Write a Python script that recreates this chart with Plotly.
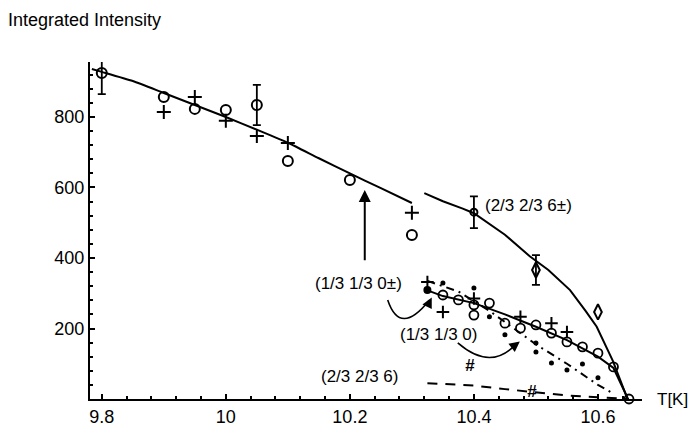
import plotly.graph_objects as go

# ---------------- data ----------------
# upper fit curve (below ~10.3 K)
fit1_T = [9.784, 9.8, 9.85, 9.9, 9.95, 10.0, 10.05, 10.1, 10.15, 10.2, 10.25, 10.3]
fit1_I = [936, 928, 902, 868, 834, 800, 764, 727, 683, 640, 598, 556]

# upper circles / crosses
up_circ_T = [9.8, 9.9, 9.95, 10.0, 10.05, 10.1, 10.2, 10.3]
up_circ_I = [925, 857, 823, 820, 834, 675, 621, 465]
up_circ_err = [60, 0, 0, 0, 57, 0, 0, 0]
up_plus_T = [9.9, 9.95, 10.0, 10.05, 10.1, 10.3]
up_plus_I = [814, 857, 789, 746, 726, 528]

# (2/3 2/3 6±) curve and points
fit2_T = [10.32, 10.35, 10.382, 10.4, 10.45, 10.49, 10.52, 10.555, 10.58, 10.598, 10.624, 10.647]
fit2_I = [584, 561, 540, 527, 466, 405, 366, 309, 250, 205, 108, 3]
p236_T = [10.4, 10.5, 10.6]
p236_I = [530, 366, 247]
p236_err = [45, 42, 0]

# (1/3 1/3 0±) curve and points
fit3_T = [10.324, 10.35, 10.4, 10.45, 10.5, 10.55, 10.6, 10.625, 10.648]
fit3_I = [309, 292, 272, 240, 205, 167, 120, 88, 2]
lo_circ_T = [10.35, 10.375, 10.4, 10.425, 10.45, 10.475, 10.5, 10.525, 10.55, 10.575, 10.6, 10.625, 10.65, 10.4]
lo_circ_I = [295, 281, 267, 272, 215, 201, 210, 187, 162, 148, 130, 91, 0, 238]
lo_plus_T = [10.325, 10.35, 10.4, 10.475, 10.525, 10.55]
lo_plus_I = [332, 247, 285, 233, 215, 190]
lo_fill_T = [10.325]
lo_fill_I = [309]

# (1/3 1/3 0) dots and dash-dot curve
dot_T = [10.35, 10.4, 10.425, 10.45, 10.5, 10.5, 10.525, 10.55, 10.575, 10.6]
dot_I = [329, 315, 233, 182, 159, 133, 102, 82, 99, 60]
fit4_T = [10.325, 10.375, 10.425, 10.475, 10.5, 10.55, 10.6, 10.625]
fit4_I = [335, 305, 250, 185, 155, 100, 40, 15]

# (2/3 2/3 6) dashed curve
fit5_T = [10.325, 10.4, 10.45, 10.49, 10.55, 10.6, 10.65]
fit5_I = [45, 38, 28, 20, 10, 5, 0]

x_ticks = [9.8, 10.0, 10.2, 10.4, 10.6]
x_tick_text = ["9.8", "10", "10.2", "10.4", "10.6"]
y_ticks = [200, 400, 600, 800]
y_tick_text = ["200", "400", "600", "800"]

FONT = "Liberation Sans, Arial, sans-serif"
BLACK = "#000000"


def with_errors(ts, vs, errs):
    idx = [i for i, e in enumerate(errs) if e > 0]
    return [ts[i] for i in idx], [vs[i] for i in idx], [errs[i] for i in idx]


fig = go.Figure()

line_kw = dict(mode="lines", hoverinfo="skip", showlegend=False, cliponaxis=False)
fig.add_trace(go.Scatter(x=fit1_T, y=fit1_I, line=dict(color=BLACK, width=2, shape="spline", smoothing=0.6), **line_kw))
fig.add_trace(go.Scatter(x=fit2_T, y=fit2_I, line=dict(color=BLACK, width=2), **line_kw))
fig.add_trace(go.Scatter(x=fit3_T, y=fit3_I, line=dict(color=BLACK, width=2), **line_kw))
fig.add_trace(go.Scatter(x=fit4_T, y=fit4_I, line=dict(color=BLACK, width=2, dash="8px,5px,2px,5px"), **line_kw))
fig.add_trace(go.Scatter(x=fit5_T, y=fit5_I, line=dict(color=BLACK, width=2, dash="10px,8px"), **line_kw))

# error bars (only where an error is given)
for ts, vs, es in [(up_circ_T, up_circ_I, up_circ_err), (p236_T, p236_I, p236_err)]:
    et, ev, ee = with_errors(ts, vs, es)
    fig.add_trace(go.Scatter(
        x=et, y=ev, mode="markers", marker=dict(size=1, color="rgba(0,0,0,0)"),
        error_y=dict(type="data", array=ee, visible=True, color=BLACK, thickness=1.8, width=4),
        hoverinfo="skip", showlegend=False, cliponaxis=False))

mk_kw = dict(mode="markers", hoverinfo="skip", showlegend=False, cliponaxis=False)
fig.add_trace(go.Scatter(x=up_circ_T, y=up_circ_I,
    marker=dict(symbol="circle-open", size=10, color=BLACK, line=dict(width=2, color=BLACK)), **mk_kw))
fig.add_trace(go.Scatter(x=up_plus_T, y=up_plus_I,
    marker=dict(symbol="cross-thin-open", size=10, color=BLACK, line=dict(width=2, color=BLACK)), **mk_kw))
fig.add_trace(go.Scatter(x=p236_T[:1], y=p236_I[:1],
    marker=dict(symbol="circle-open", size=7, color=BLACK, line=dict(width=2, color=BLACK)), **mk_kw))
fig.add_trace(go.Scatter(x=p236_T[1:], y=p236_I[1:],
    marker=dict(symbol="diamond-tall-open", size=11, color=BLACK, line=dict(width=2, color=BLACK)), **mk_kw))
fig.add_trace(go.Scatter(x=lo_circ_T, y=lo_circ_I,
    marker=dict(symbol="circle-open", size=9, color=BLACK, line=dict(width=1.8, color=BLACK)), **mk_kw))
fig.add_trace(go.Scatter(x=lo_plus_T, y=lo_plus_I,
    marker=dict(symbol="cross-thin-open", size=9, color=BLACK, line=dict(width=2, color=BLACK)), **mk_kw))
fig.add_trace(go.Scatter(x=lo_fill_T, y=lo_fill_I,
    marker=dict(symbol="circle", size=8, color=BLACK), **mk_kw))
fig.add_trace(go.Scatter(x=dot_T, y=dot_I,
    marker=dict(symbol="circle", size=5, color=BLACK), **mk_kw))

annos = [
    dict(text="(2/3 2/3 6±)", x=10.415, y=550, xanchor="left"),
    dict(text="(1/3 1/3 0±)", x=10.140, y=329, xanchor="left"),
    dict(text="(1/3 1/3 0)", x=10.277, y=184, xanchor="left"),
    dict(text="(2/3 2/3 6)", x=10.150, y=65, xanchor="left"),
]
for a in annos:
    fig.add_annotation(xref="x", yref="y", showarrow=False, yanchor="middle",
                       font=dict(family=FONT, size=17, color=BLACK), **a)
for hx, hy in [(10.394, 96), (10.494, 22)]:
    fig.add_annotation(xref="x", yref="y", showarrow=False, x=hx, y=hy, text="<b><i>#</i></b>",
                       font=dict(family=FONT, size=17, color=BLACK))

fig.add_annotation(text="T[K]", xref="paper", yref="y", x=1.024, y=0, xanchor="left", yanchor="middle",
                   showarrow=False, font=dict(family=FONT, size=17, color=BLACK))
fig.add_annotation(text="Integrated Intensity", xref="paper", yref="paper", x=-0.152, y=1.125,
                   xanchor="left", yanchor="middle", showarrow=False,
                   font=dict(family=FONT, size=18, color=BLACK))

# vertical arrow
fig.add_annotation(x=10.224, y=593, ax=10.224, ay=389, xref="x", yref="y", axref="x", ayref="y",
                   text="", showarrow=True, arrowhead=2, arrowsize=1.2, arrowwidth=2, arrowcolor=BLACK)
# curved arrows
fig.add_shape(type="path", xref="x", yref="y", path="M 10.261,281 Q 10.281,176 10.328,280",
              line=dict(color=BLACK, width=1.6))
fig.add_annotation(x=10.332, y=288, ax=-5, ay=10, xref="x", yref="y", text="", showarrow=True,
                   arrowhead=2, arrowsize=1.3, arrowwidth=1.6, arrowcolor=BLACK)
fig.add_shape(type="path", xref="x", yref="y", path="M 10.374,159 Q 10.427,78 10.468,156",
              line=dict(color=BLACK, width=1.6))
fig.add_annotation(x=10.474, y=163, ax=-9, ay=7, xref="x", yref="y", text="", showarrow=True,
                   arrowhead=2, arrowsize=1.3, arrowwidth=1.6, arrowcolor=BLACK)

fig.update_layout(
    width=693, height=427,
    margin=dict(l=90, r=51, t=62, b=28),
    paper_bgcolor="white", plot_bgcolor="white",
    font=dict(family=FONT, size=18, color=BLACK),
    showlegend=False,
    xaxis=dict(range=[9.781, 10.671], showgrid=False, zeroline=False, showline=True,
               linecolor=BLACK, linewidth=2, ticks="inside", ticklen=5, tickwidth=1.5, tickcolor=BLACK,
               tickvals=x_ticks, ticktext=x_tick_text, tickfont=dict(size=18),
               minor=dict(dtick=0.04, tick0=9.8, ticks="inside", ticklen=3, tickcolor=BLACK, showgrid=False),
               automargin=False),
    yaxis=dict(range=[0, 956], showgrid=False, zeroline=False, showline=True,
               linecolor=BLACK, linewidth=2, ticks="inside", ticklen=5, tickwidth=1.5, tickcolor=BLACK,
               tickvals=y_ticks, ticktext=y_tick_text, tickfont=dict(size=18),
               minor=dict(dtick=40, tick0=0, ticks="inside", ticklen=3, tickcolor=BLACK, showgrid=False),
               automargin=False),
)

fig.write_html("out.html")
